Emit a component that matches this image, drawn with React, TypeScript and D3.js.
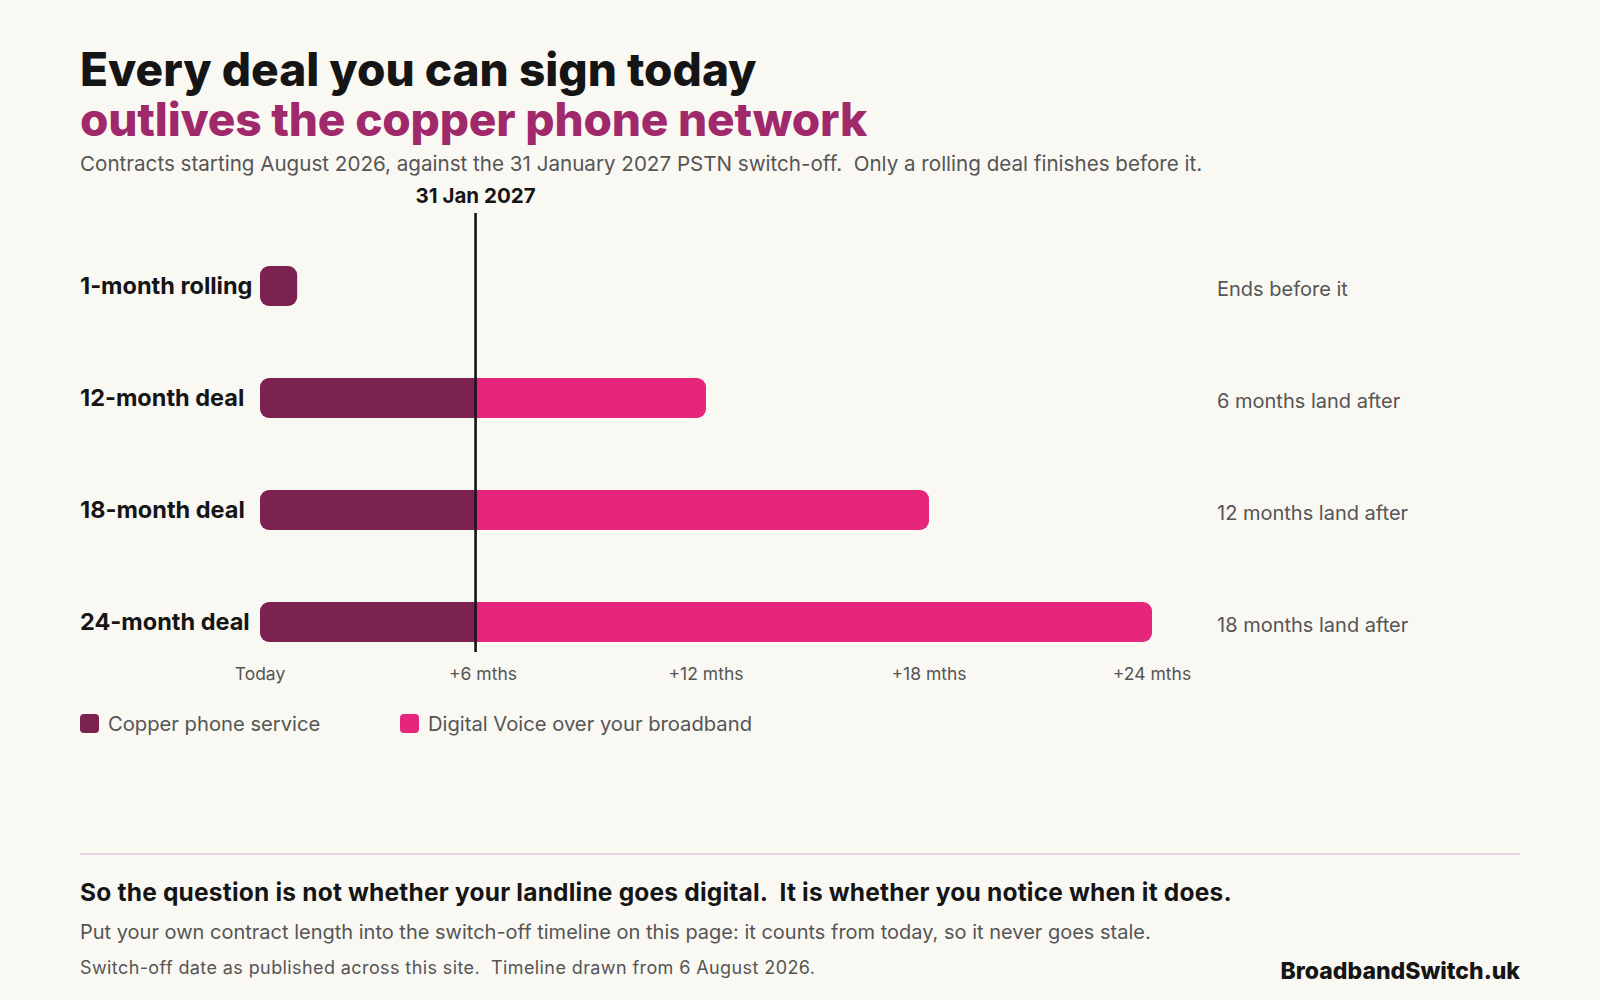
import React from 'react';
import * as d3 from 'd3';

// contract lengths in months, counted from today (6 Aug 2026)
const deals = ['1-month rolling', '12-month deal', '18-month deal', '24-month deal'];
const contractMonths = [1, 12, 18, 24];
const notes = ['Ends before it', '6 months land after', '12 months land after', '18 months land after'];

const tickMonths = [0, 6, 12, 18, 24];
const tickLabels = ['Today', '+6 mths', '+12 mths', '+18 mths', '+24 mths'];

// 31 Jan 2027 switch-off, months after today
const switchOffMonths = 5.8;
const switchOffLabel = '31 Jan 2027';

const legendLabels = ['Copper phone service', 'Digital Voice over your broadband'];

const COPPER = '#7b2251';
const DIGITAL = '#e5267a';
const PLUM = '#a0296b';
const INK = '#151515';
const GREY = '#555555';
const FONT = 'Inter, "Noto Sans", sans-serif';
const pre = { whiteSpace: 'pre' as const };

// rect with optional rounded ends
function barPath(x0: number, x1: number, y: number, h: number, r: number, roundL: boolean, roundR: boolean) {
  const p = d3.path();
  const rl = roundL ? r : 0;
  const rr = roundR ? r : 0;
  p.moveTo(x0 + rl, y);
  p.lineTo(x1 - rr, y);
  if (rr) p.arcTo(x1, y, x1, y + rr, rr);
  p.lineTo(x1, y + h - rr);
  if (rr) p.arcTo(x1, y + h, x1 - rr, y + h, rr);
  p.lineTo(x0 + rl, y + h);
  if (rl) p.arcTo(x0, y + h, x0, y + h - rl, rl);
  p.lineTo(x0, y + rl);
  if (rl) p.arcTo(x0, y, x0 + rl, y, rl);
  p.closePath();
  return p.toString();
}

const App: React.FC = () => {
  const x = d3.scaleLinear().domain([0, 24]).range([260, 1152]);
  const y = d3.scalePoint<string>().domain(deals).range([286, 622]);
  const barH = 40;
  const r = 9;
  const xs = x(switchOffMonths);

  return (
    <svg
      width={1600}
      height={1000}
      viewBox="0 0 1600 1000"
      style={{ position: 'absolute', left: 0, top: 0, background: '#faf8f3' }}
      fontFamily={FONT}
    >
      <rect width={1600} height={1000} fill="#faf8f3" />

      {/* heading */}
      <text x={80} y={86} fontSize={46} fontWeight={800} fill={INK}>
        Every deal you can sign today
      </text>
      <text x={80} y={136} fontSize={46} fontWeight={800} fill={PLUM} letterSpacing={-0.2}>
        outlives the copper phone network
      </text>
      <text x={80} y={171} fontSize={20.6} fill={GREY} style={pre}>
        {'Contracts starting August 2026, against the 31 January 2027 PSTN switch-off.  Only a rolling deal finishes before it.'}
      </text>

      {/* bars */}
      {deals.map((d, i) => {
        const len = contractMonths[i];
        const cy = y(d) as number;
        const top = cy - barH / 2;
        const copperEnd = Math.min(len, switchOffMonths);
        const hasDigital = len > switchOffMonths;
        return (
          <g key={d}>
            <text x={80} y={cy} dy="0.35em" fontSize={23.5} fontWeight={700} fill={INK}>
              {d}
            </text>
            <path d={barPath(x(0), x(copperEnd), top, barH, r, true, !hasDigital)} fill={COPPER} />
            {hasDigital && (
              <path d={barPath(x(switchOffMonths), x(len), top, barH, r, false, true)} fill={DIGITAL} />
            )}
            <text x={1217} y={cy + 3} dy="0.35em" fontSize={20} fill={GREY}>
              {notes[i]}
            </text>
          </g>
        );
      })}

      {/* switch-off marker */}
      <line x1={xs} x2={xs} y1={213} y2={652} stroke={INK} strokeWidth={2.6} />
      <text x={xs} y={203} textAnchor="middle" fontSize={20.5} fontWeight={700} fill={INK}>
        {switchOffLabel}
      </text>

      {/* axis labels */}
      {tickMonths.map((m, i) => (
        <text key={m} x={x(m)} y={680} textAnchor="middle" fontSize={17.5} fill={GREY}>
          {tickLabels[i]}
        </text>
      ))}

      {/* legend */}
      {legendLabels.map((l, i) => {
        const lx = [80, 400][i];
        return (
          <g key={l} transform={`translate(${lx},714)`}>
            <rect width={19} height={19} rx={4} fill={i === 0 ? COPPER : DIGITAL} />
            <text x={28} y={17} fontSize={20.2} fill={GREY}>
              {l}
            </text>
          </g>
        );
      })}

      {/* footer */}
      <line x1={80} x2={1520} y1={854} y2={854} stroke="#ecd3e3" strokeWidth={2} />
      <text x={80} y={901} fontSize={24.5} fontWeight={700} fill={INK} letterSpacing={0.2} style={pre}>
        {'So the question is not whether your landline goes digital.  It is whether you notice when it does.'}
      </text>
      <text x={80} y={939} fontSize={20} fill={GREY}>
        Put your own contract length into the switch-off timeline on this page: it counts from today, so it never goes stale.
      </text>
      <text x={80} y={974} fontSize={18} fill={GREY} letterSpacing={0.4} style={pre}>
        {'Switch-off date as published across this site.  Timeline drawn from 6 August 2026.'}
      </text>
      <text x={1520} y={979} textAnchor="end" fontSize={23} fontWeight={800} fill={INK}>
        BroadbandSwitch.uk
      </text>
    </svg>
  );
};

export default App;
